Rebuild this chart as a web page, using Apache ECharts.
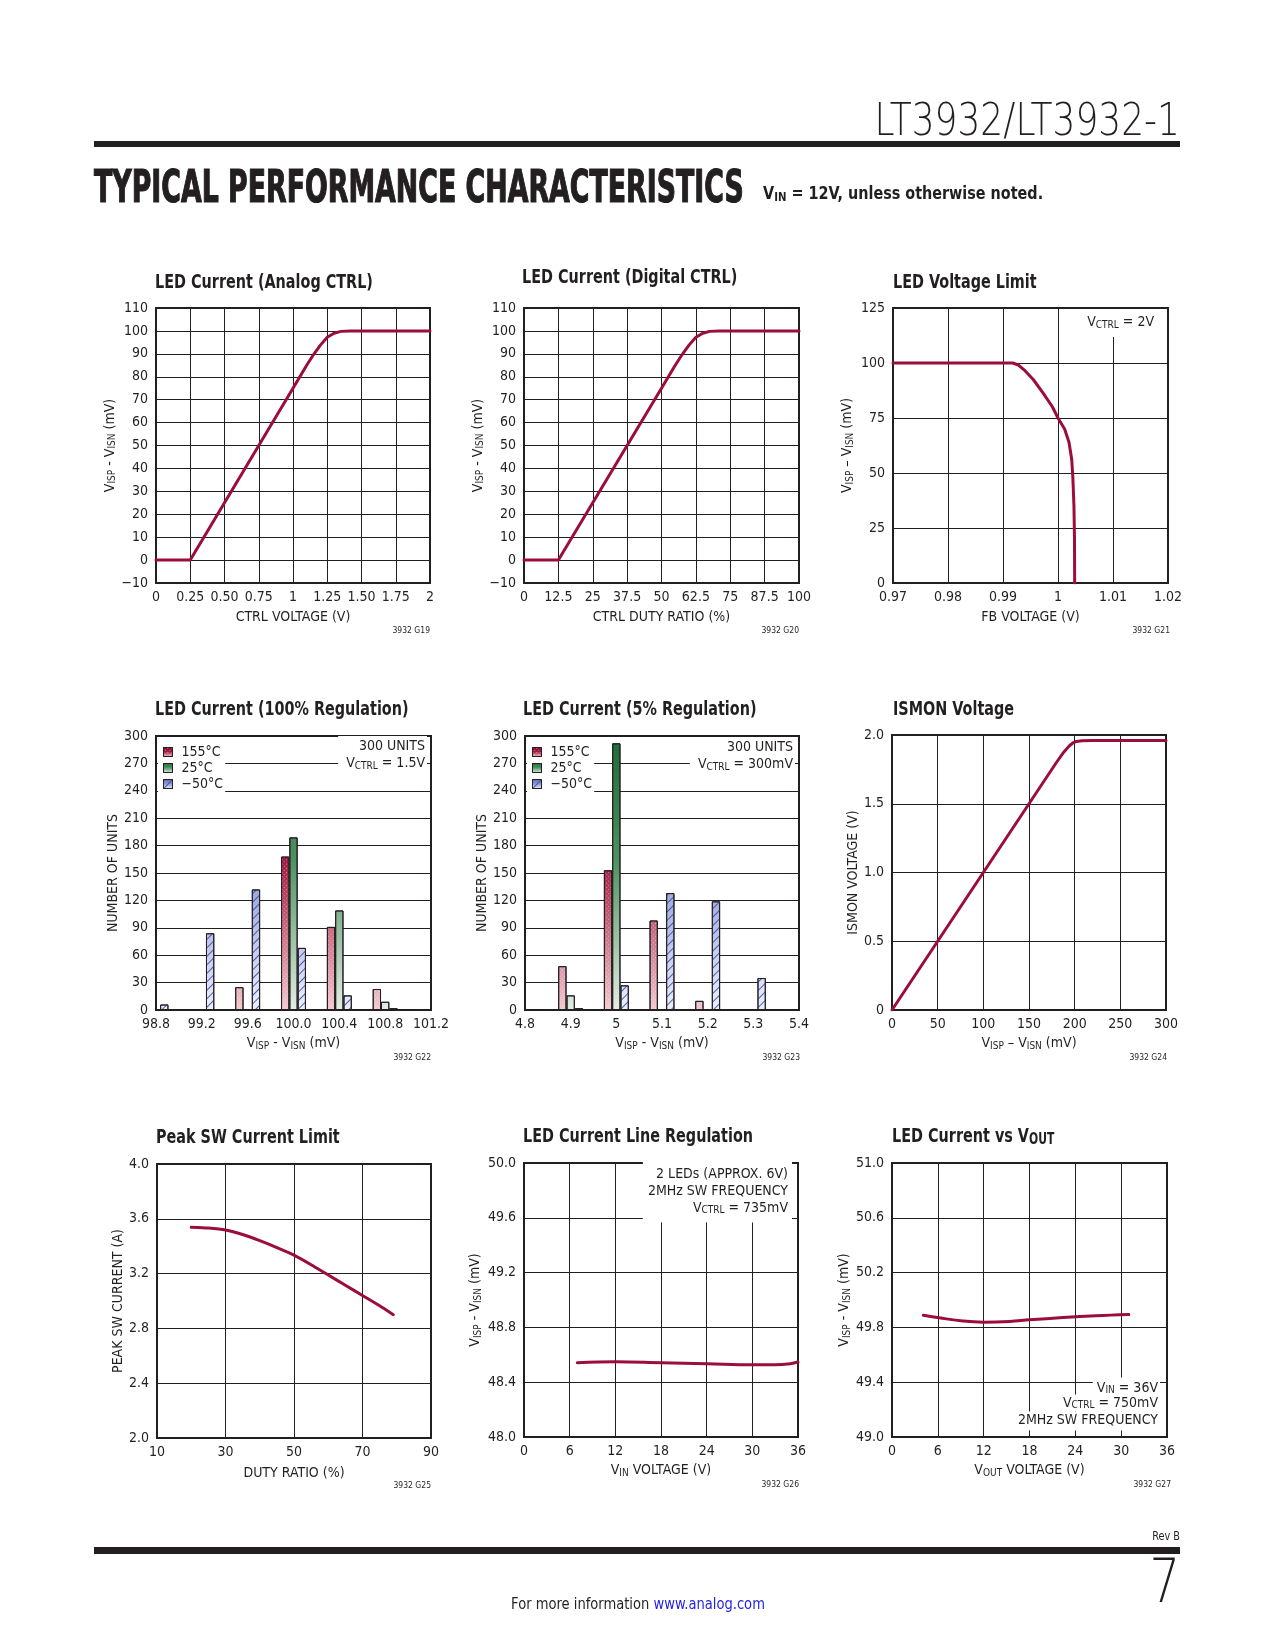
<!DOCTYPE html>
<html><head><meta charset="utf-8">
<script src="https://cdn.jsdelivr.net/npm/echarts@6/dist/echarts.min.js"></script>
<style>html,body{margin:0;padding:0;background:#fff}#c{width:1275px;height:1650px}</style>
</head><body><div id="c"></div>
<script>
// ================= DATA =================
// G19 LED Current (Analog CTRL)
const analogCtrlV = [0, 0.25, 0.5, 0.75, 1.0, 1.1, 1.15, 1.2, 1.25, 1.3, 1.35, 1.42, 2.0];
const analogSense = [0, 0, 25, 50, 75, 85, 89.7, 93.8, 97.2, 99.0, 99.8, 100, 100];
const analogXLabels = ['0','0.25','0.50','0.75','1','1.25','1.50','1.75','2'];
const senseYLabels = ['\u221210','0','10','20','30','40','50','60','70','80','90','100','110'];
// G20 LED Current (Digital CTRL)
const digitalDuty = [0, 12.5, 25, 37.5, 50, 55, 57.5, 60, 62.5, 65, 67.5, 71, 100];
const digitalSense = [0, 0, 25, 50, 75, 85, 89.7, 93.8, 97.2, 99.0, 99.8, 100, 100];
const digitalXLabels = ['0','12.5','25','37.5','50','62.5','75','87.5','100'];
// G21 LED Voltage Limit
const fbVoltage = [0.97, 0.9918, 0.9928, 0.994, 0.9955, 0.9973, 0.999, 1.0, 1.0012, 1.002, 1.0025, 1.0027, 1.0029, 1.00300, 1.00303];
const fbSense = [100, 100, 99, 96.5, 92.5, 86.3, 80, 75, 70, 64, 56, 48, 35, 20, 0];
const fbXLabels = ['0.97','0.98','0.99','1','1.01','1.02'];
const fbYLabels = ['0','25','50','75','100','125'];
// G22 LED Current (100% Regulation) histogram
const reg100Bins = [98.8, 99.2, 99.6, 100.0, 100.4, 100.8];
const reg100Hot = [0, 0, 25, 168, 91, 23];
const reg100Room = [0, 0, 0, 189, 109, 9];
const reg100Cold = [6, 84, 132, 68, 16, 2];
const reg100XLabels = ['98.8','99.2','99.6','100.0','100.4','100.8','101.2'];
const unitsYLabels = ['0','30','60','90','120','150','180','210','240','270','300'];
// G23 LED Current (5% Regulation) histogram
const reg5Bins = [4.9, 5.0, 5.1, 5.2, 5.3];
const reg5Hot = [48, 153, 98, 10, 0];
const reg5Room = [16, 292, 0, 0, 0];
const reg5Cold = [2, 27, 128, 119, 35];
const reg5XLabels = ['4.8','4.9','5','5.1','5.2','5.3','5.4'];
const tempNames = ['155\u00B0C', '25\u00B0C', '\u221250\u00B0C'];
// G24 ISMON Voltage
const ismonSense = [0, 50, 100, 150, 180, 188, 194, 198, 202, 208, 220, 300];
const ismonVolt = [0, 0.5, 1.0, 1.5, 1.8, 1.875, 1.92, 1.942, 1.953, 1.958, 1.96, 1.96];
const ismonXLabels = ['0','50','100','150','200','250','300'];
const ismonYLabels = ['0','0.5','1.0','1.5','2.0'];
// G25 Peak SW Current Limit
const peakDuty = [20, 25, 30, 35, 40, 45, 50, 55, 60, 65, 70, 75, 79];
const peakCurrent = [3.538, 3.532, 3.518, 3.485, 3.44, 3.39, 3.335, 3.265, 3.19, 3.115, 3.04, 2.965, 2.9];
const peakXLabels = ['10','30','50','70','90'];
const peakYLabels = ['2.0','2.4','2.8','3.2','3.6','4.0'];
// G26 LED Current Line Regulation
const lineVin = [7, 12, 18, 24, 30, 33, 35, 36];
const lineSense = [48.542, 48.549, 48.542, 48.535, 48.527, 48.527, 48.535, 48.547];
const lineXLabels = ['0','6','12','18','24','30','36'];
const lineYLabels = ['48.0','48.4','48.8','49.2','49.6','50.0'];
// G27 LED Current vs VOUT
const voutVolt = [4.1, 6.2, 9.3, 12, 15.4, 18, 22.4, 26.7, 31];
const voutSense = [49.889, 49.870, 49.846, 49.838, 49.843, 49.855, 49.872, 49.885, 49.894];
const voutXLabels = ['0','6','12','18','24','30','36'];
const voutYLabels = ['49.0','49.4','49.8','50.2','50.6','51.0'];

// ================= STYLE / LAYOUT =================
const FONT = "'Liberation Sans Narrow','DejaVu Sans Condensed','Roboto Condensed','Liberation Sans',Arial,sans-serif";
const THIN = "'DejaVu Sans','Liberation Sans',sans-serif";
const INK = '#231f20';
const CURVE = '#9b0d3b';
const SUB = {
  s: {fontSize: 10, fontFamily: FONT, color: INK, padding: [5, 0, 0, 0]}
};
const zip = (a, b) => a.map((v, i) => [v, b[i]]);
const lbl = (labels, min, interval) => v => {
  const i = Math.round((v - min) / interval);
  return labels[i] !== undefined ? labels[i] : '';
};

const panels = [
  {g: [156, 308, 274, 275], vgrid: true,
   x: {min: 0, max: 2, interval: 0.25, labels: analogXLabels, name: 'CTRL VOLTAGE (V)', gap: 27},
   y: {min: -10, max: 110, interval: 10, labels: senseYLabels, name: 'V{s|ISP} - V{s|ISN} (mV)', gap: 37}},
  {g: [524, 308, 275, 275], vgrid: true,
   x: {min: 0, max: 100, interval: 12.5, labels: digitalXLabels, name: 'CTRL DUTY RATIO (%)', gap: 27},
   y: {min: -10, max: 110, interval: 10, labels: senseYLabels, name: 'V{s|ISP} - V{s|ISN} (mV)', gap: 38}},
  {g: [893, 308, 275, 275], vgrid: true,
   x: {min: 0.97, max: 1.02, interval: 0.01, labels: fbXLabels, name: 'FB VOLTAGE (V)', gap: 27},
   y: {min: 0, max: 125, interval: 25, labels: fbYLabels, name: 'V{s|ISP} \u2013 V{s|ISN} (mV)', gap: 38}},
  {g: [156, 736, 275, 274], vgrid: false,
   x: {min: 98.8, max: 101.2, interval: 0.4, labels: reg100XLabels, name: 'V{s|ISP} - V{s|ISN} (mV)', gap: 26},
   y: {min: 0, max: 300, interval: 30, labels: unitsYLabels, name: 'NUMBER OF UNITS', gap: 36}},
  {g: [525, 736, 274, 274], vgrid: false,
   x: {min: 4.8, max: 5.4, interval: 0.1, labels: reg5XLabels, name: 'V{s|ISP} - V{s|ISN} (mV)', gap: 26},
   y: {min: 0, max: 300, interval: 30, labels: unitsYLabels, name: 'NUMBER OF UNITS', gap: 35}},
  {g: [892, 735, 274, 275], vgrid: true,
   x: {min: 0, max: 300, interval: 50, labels: ismonXLabels, name: 'V{s|ISP} \u2013 V{s|ISN} (mV)', gap: 26},
   y: {min: 0, max: 2, interval: 0.5, labels: ismonYLabels, name: 'ISMON VOLTAGE (V)', gap: 31}},
  {g: [157, 1164, 274, 274], vgrid: true,
   x: {min: 10, max: 90, interval: 20, labels: peakXLabels, name: 'DUTY RATIO (%)', gap: 28},
   y: {min: 2, max: 4, interval: 0.4, labels: peakYLabels, name: 'PEAK SW CURRENT (A)', gap: 32}},
  {g: [524, 1163, 274, 274], vgrid: true,
   x: {min: 0, max: 36, interval: 6, labels: lineXLabels, name: 'V{s|IN} VOLTAGE (V)', gap: 26},
   y: {min: 48, max: 50, interval: 0.4, labels: lineYLabels, name: 'V{s|ISP} - V{s|ISN} (mV)', gap: 41}},
  {g: [892, 1163, 275, 274], vgrid: true,
   x: {min: 0, max: 36, interval: 6, labels: voutXLabels, name: 'V{s|OUT} VOLTAGE (V)', gap: 26},
   y: {min: 49, max: 51, interval: 0.4, labels: voutYLabels, name: 'V{s|ISP} - V{s|ISN} (mV)', gap: 40}}
];

const axisText = {fontSize: 14, fontFamily: FONT, color: INK};
const grid = panels.map(p => ({
  left: p.g[0], top: p.g[1], width: p.g[2], height: p.g[3],
  show: true, borderColor: INK, borderWidth: 2, backgroundColor: 'transparent',
  containLabel: false, outerBoundsMode: 'none'
}));
const xAxis = panels.map((p, i) => ({
  type: 'value', gridIndex: i, min: p.x.min, max: p.x.max, interval: p.x.interval,
  axisLine: {show: false}, axisTick: {show: false},
  splitLine: {show: p.vgrid, lineStyle: {color: INK, width: 1}},
  axisLabel: Object.assign({formatter: lbl(p.x.labels, p.x.min, p.x.interval), margin: 7,
    showMinLabel: true, showMaxLabel: true}, axisText),
  name: p.x.name, nameLocation: 'middle', nameGap: p.x.gap,
  nameTextStyle: Object.assign({rich: SUB}, axisText)
}));
const yAxis = panels.map((p, i) => ({
  type: 'value', gridIndex: i, min: p.y.min, max: p.y.max, interval: p.y.interval,
  axisLine: {show: false}, axisTick: {show: false},
  splitLine: {show: true, lineStyle: {color: INK, width: 1}},
  axisLabel: Object.assign({formatter: lbl(p.y.labels, p.y.min, p.y.interval), margin: 8,
    showMinLabel: true, showMaxLabel: true}, axisText),
  name: p.y.name, nameLocation: 'middle', nameGap: p.y.gap,
  nameTextStyle: Object.assign({rich: SUB}, axisText)
}));

function curve(gi, xs, ys, smooth) {
  return {type: 'line', xAxisIndex: gi, yAxisIndex: gi, data: zip(xs, ys),
    showSymbol: false, symbol: 'none', smooth: smooth || false, z: 3,
    lineStyle: {color: CURVE, width: 3, cap: 'round', join: 'round'}};
}

const HOT = ['#7a0a26', '#a3183e', '#f3c9d0'];
const ROOM = ['#1f6a37', '#4d9160', '#e3eee3'];
const COLD = ['#5e68b4', '#8d95cf', '#eef0fa'];
const hotDecal = {symbol: 'rect', symbolSize: 1, dashArrayX: [1, 2], dashArrayY: [1, 2],
  rotation: Math.PI / 4, color: 'rgba(255,255,255,0.45)'};
const coldDecal = {symbol: 'rect', symbolSize: 1, dashArrayX: [1, 0], dashArrayY: [1, 5],
  rotation: -Math.PI / 4, color: 'rgba(40,70,190,0.85)'};
const noDecal = {symbol: 'none'};

function gradStops(c) { return [{offset: 0, color: c[0]}, {offset: 0.45, color: c[1]}, {offset: 1, color: c[2]}]; }
function bars(gi, name, bins, vals, c, decal) {
  const top = panels[gi].g[1], bottom = panels[gi].g[1] + panels[gi].g[3];
  return {type: 'bar', name, xAxisIndex: gi, yAxisIndex: gi, barWidth: 8.3, barGap: '0%',
    data: zip(bins, vals).filter(d => d[1] > 0),
    itemStyle: {color: {type: 'linear', global: true, x: 0, y: top, x2: 0, y2: bottom, colorStops: gradStops(c)},
      borderColor: INK, borderWidth: 1, decal: decal}};
}

const series = [
  curve(0, analogCtrlV, analogSense),
  curve(1, digitalDuty, digitalSense),
  curve(2, fbVoltage, fbSense),
  bars(3, tempNames[0], reg100Bins, reg100Hot, HOT, hotDecal),
  bars(3, tempNames[1], reg100Bins, reg100Room, ROOM, noDecal),
  bars(3, tempNames[2], reg100Bins, reg100Cold, COLD, coldDecal),
  bars(4, tempNames[0], reg5Bins, reg5Hot, HOT, hotDecal),
  bars(4, tempNames[1], reg5Bins, reg5Room, ROOM, noDecal),
  bars(4, tempNames[2], reg5Bins, reg5Cold, COLD, coldDecal),
  curve(5, ismonSense, ismonVolt),
  curve(6, peakDuty, peakCurrent, 0.2),
  curve(7, lineVin, lineSense, 0.4),
  curve(8, voutVolt, voutSense, 0.4)
];

const localGrad = c => ({type: 'linear', x: 0, y: 0, x2: 0, y2: 1, colorStops: gradStops(c)});
const legendData = [
  {name: tempNames[0], itemStyle: {color: localGrad(HOT)}},
  {name: tempNames[1], itemStyle: {color: localGrad(ROOM)}},
  {name: tempNames[2], itemStyle: {color: localGrad(COLD)}}
];
const legendBase = {orient: 'vertical', selectedMode: false, icon: 'rect', itemWidth: 9, itemHeight: 9,
  itemGap: 2, backgroundColor: '#fff', padding: [4, 2, 4, 5], z: 20,
  textStyle: {fontSize: 14, fontFamily: FONT, color: INK, lineHeight: 14, padding: [0, 0, 0, 4]},
  itemStyle: {borderColor: INK, borderWidth: 1}, data: legendData};
const legend = [
  Object.assign({left: 158, top: 741}, legendBase),
  Object.assign({left: 527, top: 741}, legendBase)
];

// ---------- texts ----------
const T = (x, y, text, o, sx) => ({type: 'text', x, y, z: 30, silent: true, scaleX: sx || 1,
  style: Object.assign({text, fill: INK, fontFamily: FONT, fontSize: 14, align: 'left', verticalAlign: 'middle',
    rich: {s: {fontSize: 10, fontFamily: FONT, fill: INK, padding: [5, 0, 0, 0]}}}, o || {})});
const titleStyle = {fontSize: 20, fontWeight: 'bold', rich: {s: {fontSize: 15, fontWeight: 'bold', fontFamily: FONT, fill: INK, padding: [7, 0, 0, 0]}}};
const TS = 0.8;
const idStyle = {fontSize: 8.5, align: 'right'};
const note = {align: 'right', backgroundColor: '#fff', lineHeight: 17};

const graphic = [
  // header
  {type: 'rect', shape: {x: 94, y: 141, width: 1086, height: 6}, style: {fill: INK}, z: 30, silent: true},
  T(1180, 123, 'LT3932/LT3932-1', {fontSize: 45, align: 'right', fontFamily: THIN, fontWeight: 200}, 0.8),
  T(94, 191, 'TYPICAL PERFORMANCE CHARACTERISTICS', {fontSize: 44, fontWeight: 'bold', stroke: INK, lineWidth: 1.2}, 0.677),
  T(763, 195, 'V{s|IN} = 12V, unless otherwise noted.', {fontSize: 17, fontWeight: 'bold',
    rich: {s: {fontSize: 12, fontWeight: 'bold', fontFamily: FONT, fill: INK, padding: [6, 0, 0, 0]}}}, 0.94),
  // chart titles
  T(155, 283, 'LED Current (Analog CTRL)', titleStyle, TS),
  T(522, 278, 'LED Current (Digital CTRL)', titleStyle, TS),
  T(893, 283, 'LED Voltage Limit', titleStyle, TS),
  T(155, 710, 'LED Current (100% Regulation)', titleStyle, TS),
  T(523, 710, 'LED Current (5% Regulation)', titleStyle, TS),
  T(893, 710, 'ISMON Voltage', titleStyle, TS),
  T(156, 1138, 'Peak SW Current Limit', titleStyle, TS),
  T(523, 1137, 'LED Current Line Regulation', titleStyle, TS),
  T(892, 1137, 'LED Current vs V{s|OUT}', titleStyle, TS),
  // figure ids
  T(430, 631, '3932 G19', idStyle), T(799, 631, '3932 G20', idStyle), T(1170, 631, '3932 G21', idStyle),
  T(431, 1058, '3932 G22', idStyle), T(800, 1058, '3932 G23', idStyle), T(1167, 1058, '3932 G24', idStyle),
  T(431, 1486, '3932 G25', idStyle), T(799, 1485, '3932 G26', idStyle), T(1171, 1485, '3932 G27', idStyle),
  // annotations
  T(1158, 323, 'V{s|CTRL} = 2V', Object.assign({padding: [5, 4, 6, 6]}, note)),
  T(427, 756, '300 UNITS\nV{s|CTRL} = 1.5V', Object.assign({padding: [2, 2, 4, 8]}, note)),
  T(795, 757, '300 UNITS\nV{s|CTRL} = 300mV', Object.assign({padding: [2, 2, 4, 8]}, note)),
  T(792, 1192, '2 LEDs (APPROX. 6V)\n2MHz SW FREQUENCY\nV{s|CTRL} = 735mV', Object.assign({padding: [4, 4, 6, 5], lineHeight: 16}, note)),
  T(1160, 1387, 'V{s|IN} = 36V', Object.assign({padding: [2, 2, 0, 4]}, note)),
  T(1160, 1403, 'V{s|CTRL} = 750mV', Object.assign({padding: [0, 2, 0, 4]}, note)),
  T(1160, 1421, '2MHz SW FREQUENCY', Object.assign({padding: [0, 2, 2, 4]}, note)),
  // footer
  T(1180, 1537, 'Rev B', {fontSize: 12, align: 'right'}, 0.9),
  {type: 'rect', shape: {x: 94, y: 1547, width: 1086, height: 7}, style: {fill: INK}, z: 30, silent: true},
  T(1180, 1586, '7', {fontSize: 60, align: 'right', fontFamily: THIN, fontWeight: 200}, 0.8),
  T(638, 1605, '{a|For more information }{b|www.analog.com}', {fontSize: 16, align: 'center',
    rich: {a: {fontSize: 16, fontFamily: FONT, fill: INK}, b: {fontSize: 16, fontFamily: FONT, fill: '#1f1fe0'}}}, 0.91)
];

const chart = echarts.init(document.getElementById('c'), null, {renderer: 'canvas', width: 1275, height: 1650});
chart.setOption({
  animation: false,
  backgroundColor: '#ffffff',
  aria: {enabled: true, label: {enabled: false}, decal: {show: true}},
  textStyle: {fontFamily: FONT},
  grid, xAxis, yAxis, series, legend, graphic
});
</script>
</body></html>
